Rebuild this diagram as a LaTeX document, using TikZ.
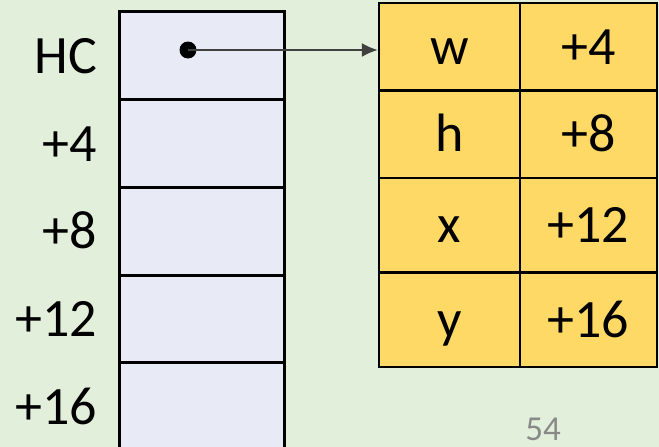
\documentclass[tikz,border=0pt]{standalone}
\usepackage{fontspec}
\setmainfont{Carlito}
\usetikzlibrary{arrows.meta}
\definecolor{slidebg}{RGB}{226,239,218}
\definecolor{stackfill}{RGB}{232,234,245}
\definecolor{structfill}{RGB}{255,217,102}
\definecolor{pagegray}{RGB}{137,137,137}
\definecolor{ptrgray}{RGB}{64,64,64}
\tikzset{
  stackcell/.style={draw=black, line width=3pt, fill=stackfill, minimum width=165pt, minimum height=87.75pt, inner sep=0pt},
  fieldcell/.style={draw=black, line width=2.5pt, fill=structfill, inner sep=0pt, text height=35pt, text depth=0pt, font=\fontsize{54}{60}\selectfont},
  offset/.style={anchor=east, inner sep=0pt, text height=35pt, text depth=0pt, font=\fontsize{54}{60}\selectfont},
}
\begin{document}
\begin{tikzpicture}[x=1pt,y=-1pt,>={Latex[length=16pt,width=14pt]}]
  % slide
  \fill[slidebg] (0,0) rectangle (659,447);
  \useasboundingbox (0,0) rectangle (659,447);
  \clip (0,0) rectangle (659,447);
  % stack
  \node[stackcell] (s0) at (201.5,55.75) {};
  \node[stackcell] (s4) at (201.5,143.5) {};
  \node[stackcell] (s8) at (201.5,231.25) {};
  \node[stackcell] (s12) at (201.5,319) {};
  \node[stackcell] (s16) at (201.5,406.75) {};
  % offsets
  \node[offset] (lhc) at (97,55.75) {HC};
  \node[offset] (l4) at (97,143.5) {+4};
  \node[offset] (l8) at (97,231.25) {+8};
  \node[offset] (l12) at (97,319) {+12};
  \node[offset] (l16) at (97,406.75) {+16};
  % struct
  \node[fieldcell, minimum width=141pt, minimum height=87.7pt] (w) at (449.5,46.85) {w};
  \node[fieldcell, minimum width=137pt, minimum height=87.7pt] (ow) at (588.5,46.85) {+4};
  \node[fieldcell, minimum width=141pt, minimum height=87.3pt] (h) at (449.5,134.35) {h};
  \node[fieldcell, minimum width=137pt, minimum height=87.3pt] (oh) at (588.5,134.35) {+8};
  \node[fieldcell, minimum width=141pt, minimum height=94.7pt] (x) at (449.5,225.35) {x};
  \node[fieldcell, minimum width=137pt, minimum height=94.7pt] (ox) at (588.5,225.35) {+12};
  \node[fieldcell, minimum width=141pt, minimum height=94.3pt] (y) at (449.5,319.85) {y};
  \node[fieldcell, minimum width=137pt, minimum height=94.3pt] (oy) at (588.5,319.85) {+16};
  % pointer
  \node[circle, fill=black, minimum size=17pt, inner sep=0pt] (hcdot) at (188,50) {};
  \draw[->, line width=1.5pt, ptrgray] (hcdot.center) -- (hcdot -| w.west);
  % page number
  \node[anchor=base, inner sep=0pt, text=pagegray, font=\fontsize{35}{40}\selectfont] (pgno) at (543,440) {54};
\end{tikzpicture}
\end{document}
